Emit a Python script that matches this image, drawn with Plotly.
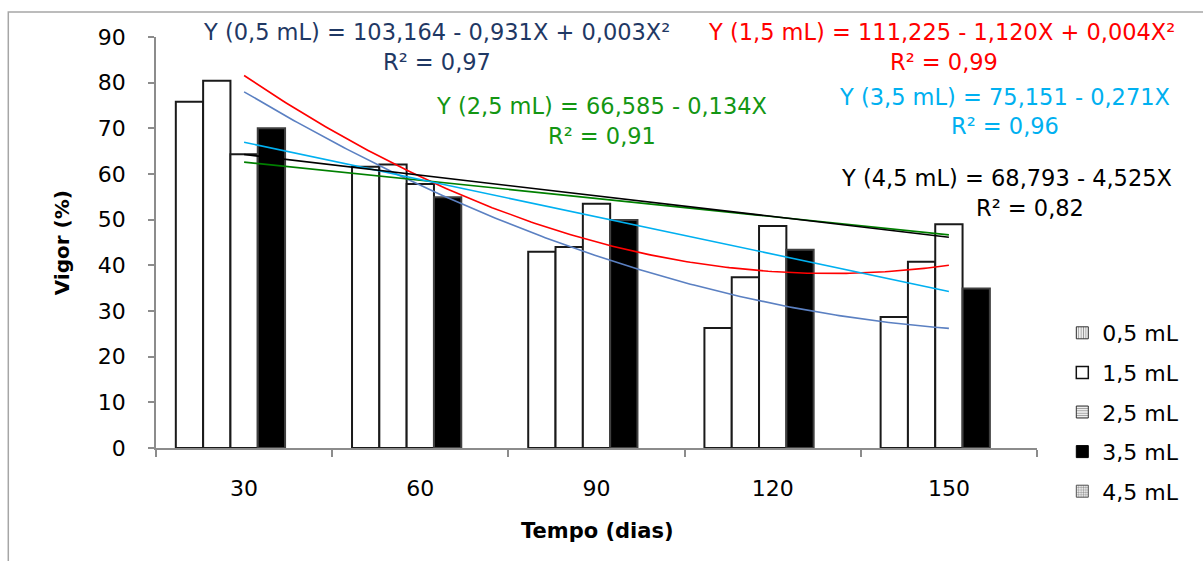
import numpy as np
import plotly.graph_objects as go

# ---- data ----
categories = ["30", "60", "90", "120", "150"]
days = [30, 60, 90, 120, 150]
series_names = ["0,5 mL", "1,5 mL", "2,5 mL", "3,5 mL", "4,5 mL"]
vigor_05 = [75.8, 61.6, 43.0, 26.3, 28.7]
vigor_15 = [80.4, 62.1, 44.0, 37.4, 40.8]
vigor_25 = [64.3, 57.8, 53.5, 48.6, 49.0]
vigor_35 = [70.0, 54.9, 49.9, 43.4, 34.9]
# 4,5 mL bars are not visible in the picture; its trend is taken from the printed equation
eq_45 = [68.793, -4.525]  # intercept, slope (X = category index 1..5)

eq_lines = [
    "Y (0,5 mL) = 103,164 - 0,931X + 0,003X²",
    "Y (1,5 mL) = 111,225 - 1,120X + 0,004X²",
    "Y (2,5 mL) = 66,585 - 0,134X",
    "Y (3,5 mL) = 75,151 - 0,271X",
    "Y (4,5 mL) = 68,793 - 4,525X",
]
r2_lines = ["R² = 0,97", "R² = 0,99", "R² = 0,91", "R² = 0,96", "R² = 0,82"]

FONT = "DejaVu Sans"
AXIS_GREY = "#8C8C8C"

fig = go.Figure()

xpos = list(range(len(categories)))
bar_w = 0.155
bar_series = [vigor_05, vigor_15, vigor_25, vigor_35]
bar_fill = ["white", "white", "white", "black"]
bar_line = ["#1a1a1a", "#1a1a1a", "#1a1a1a", "#404040"]
for i, vals in enumerate(bar_series):
    fig.add_trace(go.Bar(
        x=xpos, y=vals, width=bar_w, offset=-2.5 * bar_w + i * bar_w,
        marker=dict(color=bar_fill[i], line=dict(color=bar_line[i], width=2)),
        showlegend=False, hoverinfo="skip"))

# trend lines
t = np.linspace(0, 4, 200)
d = 30 + 30 * t
fits = [
    (vigor_05, 2, "#5B80C2"),
    (vigor_15, 2, "#FF0000"),
    (vigor_25, 1, "#008000"),
    (vigor_35, 1, "#00B0F0"),
]
for vals, deg, col in fits:
    c = np.polyfit(days, vals, deg)
    fig.add_trace(go.Scatter(x=t, y=np.polyval(c, d), mode="lines",
                             line=dict(color=col, width=1.6), showlegend=False,
                             hoverinfo="skip"))
fig.add_trace(go.Scatter(x=t, y=eq_45[0] + eq_45[1] * (t + 1), mode="lines",
                         line=dict(color="black", width=1.6), showlegend=False,
                         hoverinfo="skip"))

# legend entries (patterned symbols as in the legend)
leg_styles = [
    dict(color="white", line=dict(color="#333", width=1),
         pattern=dict(shape="|", fgcolor="#333", size=3, solidity=0.45)),
    dict(color="white", line=dict(color="#111", width=1.5)),
    dict(color="white", line=dict(color="#333", width=1),
         pattern=dict(shape="-", fgcolor="#333", size=3, solidity=0.45)),
    dict(color="black", line=dict(color="black", width=1)),
    dict(color="white", line=dict(color="#555", width=1),
         pattern=dict(shape=".", fgcolor="#333", size=3, solidity=0.5)),
]
for i, name in enumerate(series_names):
    fig.add_trace(go.Bar(x=[None], y=[None], name=name, marker=leg_styles[i],
                         legendgroup=name, hoverinfo="skip"))

L, R, T, B = 155.7, 1036.7, 37, 448
def px2x(px):
    return (px - L) / (R - L)
def py2y(py):
    return (B - py) / (B - T)

eq_cols = ["#1F3864", "#FF0000", "#139613", "#00B0F0", "#000000"]
eq_pos = [(436, 32), (941, 32), (601, 106), (1004, 97), (1006, 178)]
r2_pos = [(437, 62), (944, 62), (602, 136), (1005, 126), (1030, 208)]

ann = []
for txt, r2, (ex, ey), (rx, ry), col in zip(eq_lines, r2_lines, eq_pos, r2_pos, eq_cols):
    ann.append(dict(x=px2x(ex), y=py2y(ey), xref="paper", yref="paper", text=txt,
                    showarrow=False, font=dict(family=FONT, size=22.5, color=col),
                    xanchor="center", yanchor="middle"))
    ann.append(dict(x=px2x(rx), y=py2y(ry), xref="paper", yref="paper", text=r2,
                    showarrow=False, font=dict(family=FONT, size=22.5, color=col),
                    xanchor="center", yanchor="middle"))
ann.append(dict(x=px2x(597), y=py2y(531), xref="paper", yref="paper",
                text="<b>Tempo (dias)</b>", showarrow=False,
                xanchor="center", yanchor="middle",
                font=dict(family=FONT, size=21, color="black")))
ann.append(dict(x=px2x(62), y=py2y(243), xref="paper", yref="paper",
                text="<b>Vigor (%)</b>", showarrow=False, textangle=-90,
                xanchor="center", yanchor="middle",
                font=dict(family=FONT, size=20, color="black")))

fig.update_layout(
    width=1203, height=561,
    margin=dict(l=L, r=1203 - R, t=T, b=561 - B),
    paper_bgcolor="white", plot_bgcolor="white",
    barmode="overlay",
    showlegend=True,
    legend=dict(x=px2x(1062), y=py2y(312), xanchor="left", yanchor="top",
                font=dict(family=FONT, size=22, color="black"),
                tracegroupgap=8, bgcolor="rgba(0,0,0,0)"),
    annotations=ann,
    shapes=[dict(type="rect", xref="paper", yref="paper",
                 x0=px2x(8), x1=px2x(1230), y0=py2y(600), y1=py2y(12),
                 line=dict(color="#A6A6A6", width=1.5), layer="below")],
    xaxis=dict(range=[-0.5, 4.5], tickvals=xpos, ticktext=categories,
               ticks="", showgrid=False, zeroline=False,
               showline=True, linecolor=AXIS_GREY, linewidth=1.5,
               tickfont=dict(family=FONT, size=22, color="black"),
               ticklabelstandoff=20,
               minor=dict(tickvals=[-0.5, 0.5, 1.5, 2.5, 3.5, 4.5], ticks="outside",
                          ticklen=7, tickcolor=AXIS_GREY, tickwidth=1.5)),
    yaxis=dict(range=[0, 90], dtick=10, ticks="outside", ticklen=6,
               tickcolor=AXIS_GREY, tickwidth=1.5, showgrid=False, zeroline=False,
               showline=True, linecolor=AXIS_GREY, linewidth=1.5,
               tickfont=dict(family=FONT, size=22, color="black"),
               ticklabelstandoff=18),
)

fig.write_html("out.html")
